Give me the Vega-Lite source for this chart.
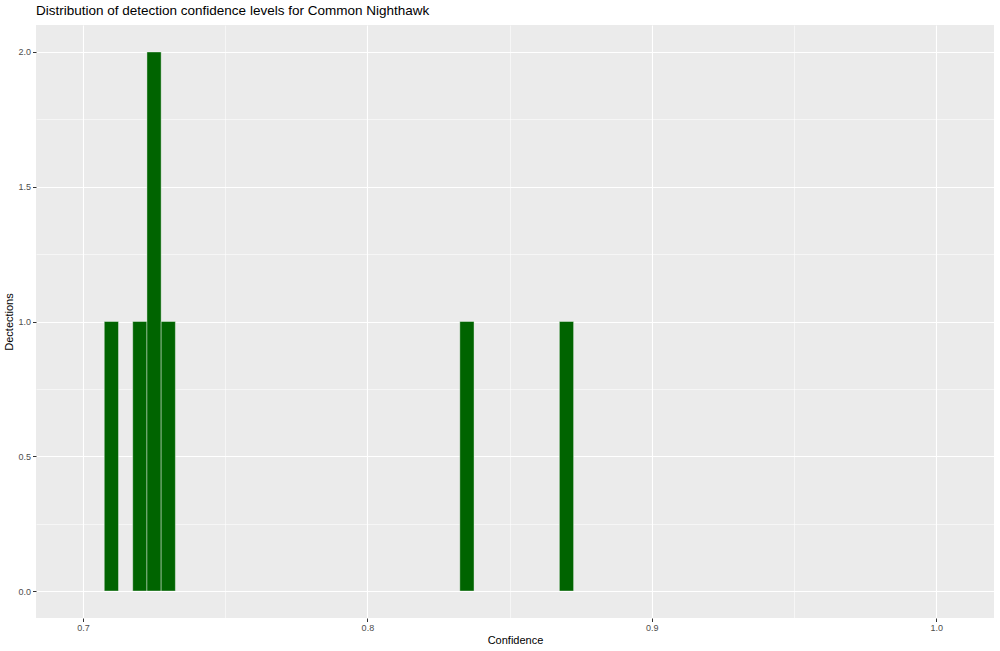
{
  "$schema": "https://vega.github.io/schema/vega-lite/v6.json",
  "width": 958,
  "height": 593,
  "autosize": {"type": "none"},
  "padding": {"left": 36, "top": 25, "right": 6, "bottom": 33},
  "background": "white",
  "title": {
    "text": "Distribution of detection confidence levels for Common Nighthawk",
    "anchor": "start",
    "frame": "group",
    "font": "Liberation Sans",
    "fontSize": 13.5,
    "fontWeight": "normal",
    "color": "black",
    "offset": 8
  },
  "config": {
    "view": {"fill": "#EBEBEB", "stroke": null},
    "axis": {"labelFont": "Liberation Sans", "titleFont": "Liberation Sans"}
  },
  "data": {
    "values": [
      {"bin_start": 0.7075, "bin_end": 0.7125, "count": 1},
      {"bin_start": 0.7175, "bin_end": 0.7225, "count": 1},
      {"bin_start": 0.7225, "bin_end": 0.7275, "count": 2},
      {"bin_start": 0.7275, "bin_end": 0.7325, "count": 1},
      {"bin_start": 0.8325, "bin_end": 0.8375, "count": 1},
      {"bin_start": 0.8675, "bin_end": 0.8725, "count": 1}
    ]
  },
  "mark": {"type": "bar", "fill": "#006400", "stroke": "white", "strokeWidth": 0.4},
  "encoding": {
    "x": {
      "field": "bin_start",
      "type": "quantitative",
      "scale": {"domain": [0.6835, 1.0203], "nice": false, "zero": false, "padding": 0},
      "axis": {
        "title": "Confidence",
        "titleFontSize": 11,
        "titleFontWeight": "normal",
        "titleColor": "black",
        "titlePadding": 2,
        "values": [0.7, 0.75, 0.8, 0.85, 0.9, 0.95, 1.0],
        "labelExpr": "round(datum.value*20) % 2 == 1 ? '' : format(datum.value, '.1f')",
        "labelFontSize": 9,
        "labelColor": "#4D4D4D",
        "labelPadding": 2,
        "domain": false,
        "ticks": true,
        "tickSize": {"condition": {"test": "round(datum.value*20) % 2 == 1", "value": 0}, "value": 3.5},
        "tickColor": "#333333",
        "tickWidth": 1,
        "grid": true,
        "gridColor": "white",
        "gridWidth": {"condition": {"test": "round(datum.value*20) % 2 == 1", "value": 0.55}, "value": 1.1}
      }
    },
    "x2": {"field": "bin_end"},
    "y": {
      "field": "count",
      "type": "quantitative",
      "scale": {"domain": [-0.1, 2.1], "nice": false, "padding": 0},
      "axis": {
        "title": "Dectections",
        "titleFontSize": 11,
        "titleFontWeight": "normal",
        "titleColor": "black",
        "titlePadding": 3,
        "values": [0, 0.25, 0.5, 0.75, 1, 1.25, 1.5, 1.75, 2],
        "labelExpr": "round(datum.value*4) % 2 == 1 ? '' : format(datum.value, '.1f')",
        "labelFontSize": 9,
        "labelColor": "#4D4D4D",
        "labelPadding": 2,
        "domain": false,
        "ticks": true,
        "tickSize": {"condition": {"test": "round(datum.value*4) % 2 == 1", "value": 0}, "value": 3.5},
        "tickColor": "#333333",
        "tickWidth": 1,
        "grid": true,
        "gridColor": "white",
        "gridWidth": {"condition": {"test": "round(datum.value*4) % 2 == 1", "value": 0.55}, "value": 1.1}
      }
    },
    "y2": {"datum": 0}
  }
}
